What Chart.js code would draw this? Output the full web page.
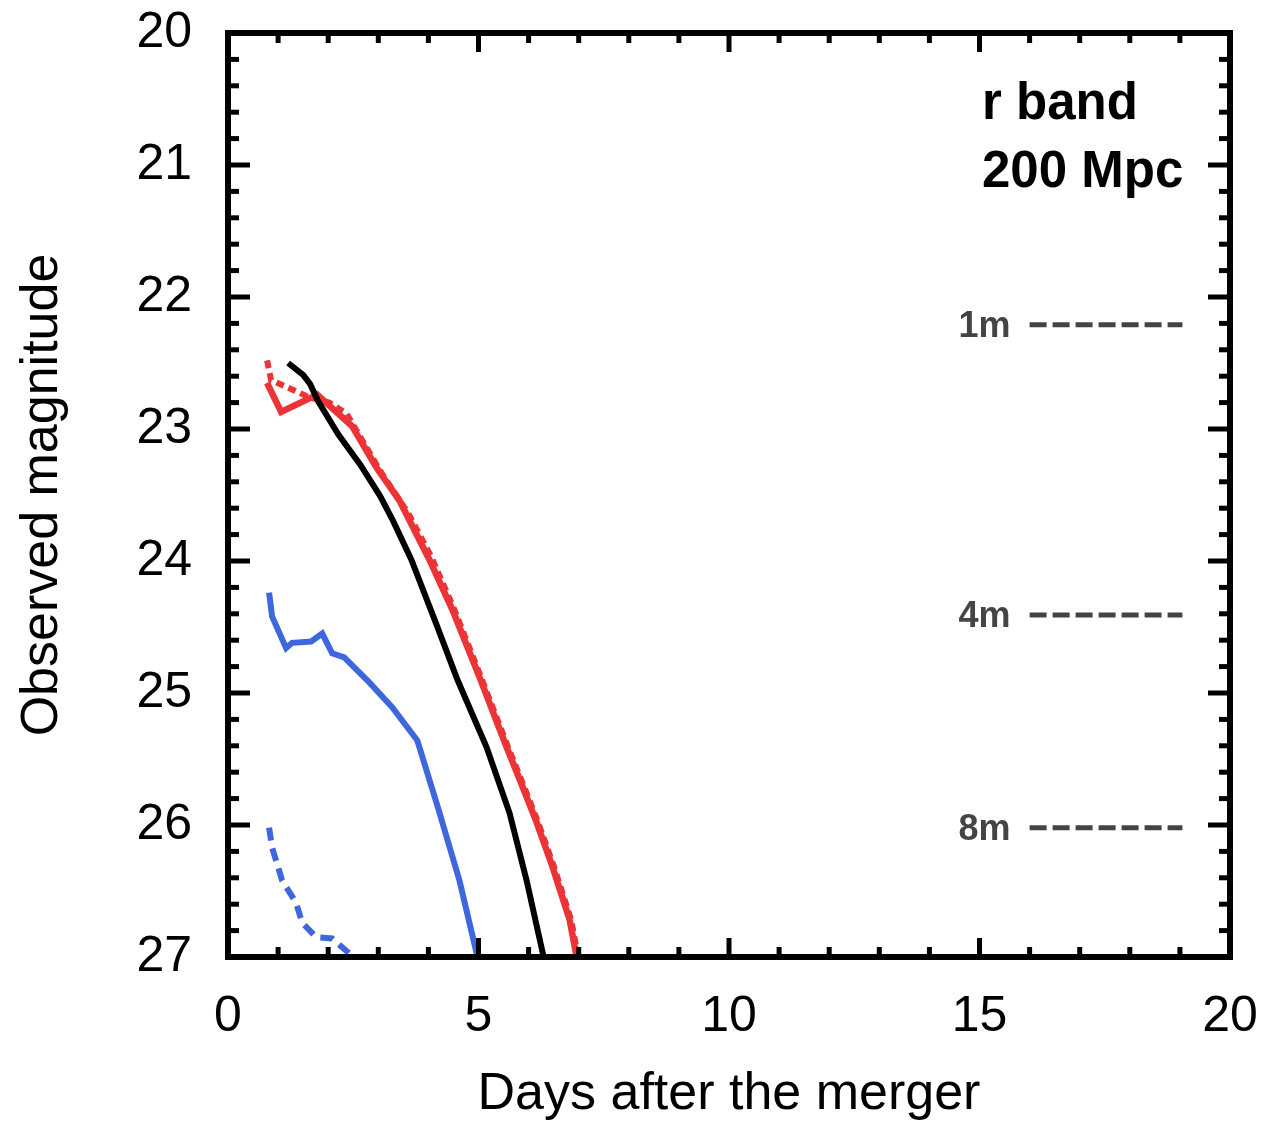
<!DOCTYPE html>
<html><head><meta charset="utf-8">
<script src="https://cdn.jsdelivr.net/npm/chart.js@4.4.1/dist/chart.umd.min.js"></script>
<style>html,body{margin:0;padding:0;background:#fff;}#wrap{width:1269px;height:1122px;}</style>
</head><body><div id="wrap"><canvas id="c" width="1269" height="1122"></canvas></div>
<script>
// ---- data (days after merger, observed magnitude) ----
const blackX = [1.20, 1.50, 1.64, 1.80, 2.20, 2.64, 3.04, 3.30, 3.66, 4.16, 4.58, 5.16, 5.62, 5.96, 6.30];
const blackY = [22.50, 22.59, 22.66, 22.79, 23.04, 23.27, 23.51, 23.70, 23.99, 24.48, 24.90, 25.41, 25.91, 26.42, 27.00];

const redX = [0.78, 1.06, 1.78, 2.48, 2.96, 3.42, 4.02, 4.48, 5.02, 5.56, 5.88, 6.16, 6.48, 6.82, 6.96];
const redY = [22.65, 22.87, 22.74, 22.98, 23.29, 23.54, 23.99, 24.37, 24.88, 25.41, 25.71, 25.98, 26.32, 26.72, 27.00];

const redDashX = [0.78, 0.86, 1.28, 1.62, 2.02, 2.36, 2.64, 3.06, 3.60, 4.06, 4.52, 5.05, 5.59, 5.91, 6.19, 6.51, 6.85, 6.99];
const redDashY = [22.48, 22.63, 22.70, 22.76, 22.80, 22.88, 23.06, 23.33, 23.64, 23.97, 24.37, 24.88, 25.41, 25.71, 25.98, 26.32, 26.72, 27.00];

const blueX = [0.82, 0.88, 1.16, 1.28, 1.66, 1.88, 2.08, 2.32, 2.82, 3.28, 3.78, 4.20, 4.62, 4.98];
const blueY = [24.24, 24.42, 24.66, 24.62, 24.61, 24.55, 24.70, 24.73, 24.92, 25.11, 25.36, 25.88, 26.42, 27.00];

const blueDashX = [0.82, 0.88, 1.08, 1.36, 1.48, 1.76, 2.08, 2.50];
const blueDashY = [26.02, 26.17, 26.42, 26.59, 26.74, 26.85, 26.86, 27.00];

// telescope limiting magnitudes
const limitLabels = ['1m', '4m', '8m'];
const limitMags = [22.21, 24.41, 26.02];
const limitStart = 16.0;
const limitEnd = 19.05;

const annotationLines = ['r band', '200 Mpc'];

const xTicks = [0, 5, 10, 15, 20];
const yTicks = [20, 21, 22, 23, 24, 25, 26, 27];

// ---- helpers ----
const pts = (xs, ys) => xs.map((v, i) => ({x: v, y: ys[i]}));
const FONT = "'Liberation Sans', Arial, Helvetica, sans-serif";

const datasets = [
  {data: pts(blueDashX, blueDashY), borderColor: '#3f67dd', borderWidth: 6, borderDash: [13, 8]},
  {data: pts(blueX, blueY), borderColor: '#3f67dd', borderWidth: 6},
  {data: pts(blackX, blackY), borderColor: '#000000', borderWidth: 6},
  {data: pts(redDashX, redDashY), borderColor: '#ec3437', borderWidth: 6, borderDash: [8, 5]},
  {data: pts(redX, redY), borderColor: '#ec3437', borderWidth: 6.5},
];
limitMags.forEach(m => {
  datasets.push({data: [{x: limitStart, y: m}, {x: limitEnd, y: m}], borderColor: '#444444', borderWidth: 5, borderDash: [17, 6]});
});
datasets.forEach(d => { d.showLine = true; d.pointRadius = 0; d.fill = false; d.tension = 0; });

const framePlugin = {
  id: 'frame',
  afterDatasetsDraw(chart) {
    const {ctx, chartArea: a, scales: {x, y}} = chart;
    ctx.save();
    ctx.strokeStyle = '#000';
    ctx.lineCap = 'butt';
    const seg = (x1, y1, x2, y2) => { ctx.beginPath(); ctx.moveTo(x1, y1); ctx.lineTo(x2, y2); ctx.stroke(); };
    ctx.lineWidth = 5;
    for (let v = x.min; v <= x.max; v += 1) {
      const px = x.getPixelForValue(v);
      const len = (v % 5 === 0) ? 19 : 10;
      seg(px, a.bottom, px, a.bottom - len);
      seg(px, a.top, px, a.top + len);
    }
    for (let i = 0; i <= 35; i++) {
      const py = y.getPixelForValue(20 + i * 0.2);
      const len = (i % 5 === 0) ? 22 : 11;
      seg(a.left, py, a.left + len, py);
      seg(a.right, py, a.right - len, py);
    }
    ctx.lineWidth = 6;
    ctx.strokeRect(a.left, a.top, a.right - a.left, a.bottom - a.top);

    // limit labels
    ctx.fillStyle = '#444444';
    ctx.font = 'bold 36px ' + FONT;
    ctx.textAlign = 'right';
    ctx.textBaseline = 'middle';
    limitLabels.forEach((t, i) => {
      ctx.fillText(t, x.getPixelForValue(15.62), y.getPixelForValue(limitMags[i]) + 2);
    });
    // annotation
    ctx.fillStyle = '#000';
    ctx.font = 'bold 51px ' + FONT;
    ctx.textAlign = 'left';
    ctx.textBaseline = 'alphabetic';
    const ax = x.getPixelForValue(15.05);
    ctx.fillText(annotationLines[0], ax, y.getPixelForValue(20.65));
    ctx.fillText(annotationLines[1], ax, y.getPixelForValue(21.17));
    ctx.restore();
  }
};

new Chart(document.getElementById('c'), {
  type: 'scatter',
  data: {datasets},
  options: {
    responsive: false,
    animation: false,
    devicePixelRatio: 1,
    layout: {padding: {left: 0, right: 39, top: 33, bottom: 0}},
    plugins: {legend: {display: false}, tooltip: {enabled: false}},
    scales: {
      x: {
        type: 'linear', min: 0, max: 20,
        afterFit(s) { s.height = 165; s.paddingLeft = 0; s.paddingRight = 0; },
        afterBuildTicks(s) { s.ticks = xTicks.map(v => ({value: v})); },
        grid: {display: false, drawTicks: false},
        border: {display: false},
        ticks: {color: '#000', padding: 30, maxRotation: 0, font: {family: FONT, size: 50}},
        title: {display: true, text: 'Days after the merger', color: '#000', font: {family: FONT, size: 52}, padding: {top: 0, bottom: -4}}
      },
      y: {
        type: 'linear', min: 20, max: 27, reverse: true,
        afterFit(s) { s.width = 228; s.paddingTop = 0; s.paddingBottom = 0; },
        afterBuildTicks(s) { s.ticks = yTicks.map(v => ({value: v})); },
        grid: {display: false, drawTicks: false},
        border: {display: false},
        ticks: {color: '#000', padding: 36, font: {family: FONT, size: 50}},
        title: {display: true, text: 'Observed magnitude', color: '#000', font: {family: FONT, size: 52}, padding: {top: 11, bottom: 0}}
      }
    }
  },
  plugins: [framePlugin]
});
</script></body></html>
